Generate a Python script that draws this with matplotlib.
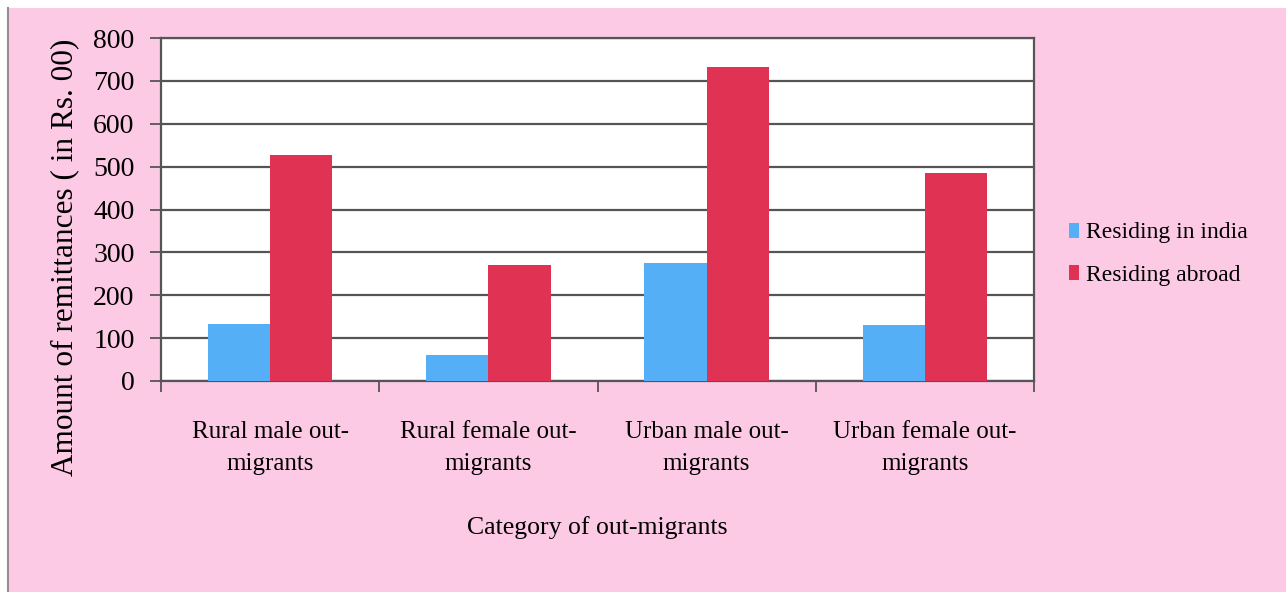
import matplotlib
matplotlib.use("Agg")
import matplotlib.pyplot as plt
import numpy as np
from matplotlib.patches import Rectangle

categories = ["Rural male out-\nmigrants", "Rural female out-\nmigrants",
              "Urban male out-\nmigrants", "Urban female out-\nmigrants"]
residing_india = [133, 61, 276, 131]
residing_abroad = [527, 270, 733, 486]
series_names = ["Residing in india", "Residing abroad"]
yticks = [0, 100, 200, 300, 400, 500, 600, 700, 800]

pink = "#FCCAE5"
blue = "#55AFF6"
red = "#E03252"
grid_col = "#555555"

plt.rcParams['font.family'] = ['Liberation Serif', 'DejaVu Serif']

fig = plt.figure(figsize=(12.86, 5.92), dpi=100)
fig.patch.set_facecolor("white")
# pink panel with thin white margin at top and left
fig.patches.append(Rectangle((7 / 1286, 0), 1 - 7 / 1286, 1 - 8 / 592,
                             transform=fig.transFigure, facecolor=pink,
                             edgecolor="none", zorder=-10))
fig.lines.append(plt.Line2D([7.5 / 1286, 7.5 / 1286], [0, 1 - 8 / 592],
                            transform=fig.transFigure, color="#9a8a92", lw=1.5))

ax = fig.add_axes([161 / 1286, 1 - 381 / 592, (1034 - 161) / 1286, (381 - 38) / 592])
ax.set_facecolor("white")

x = np.arange(len(categories))
w = 1 / 3.5
ax.bar(x - w / 2, residing_india, width=w, color=blue, label=series_names[0], zorder=3)
ax.bar(x + w / 2, residing_abroad, width=w, color=red, label=series_names[1], zorder=3)

ax.set_xlim(-0.5, len(categories) - 0.5)
ax.set_ylim(0, 800)
ax.set_yticks(yticks)
ax.set_yticklabels([str(v) for v in yticks], fontsize=20)
ax.yaxis.grid(True, color=grid_col, lw=1.6, zorder=1)
ax.tick_params(axis='y', length=8, width=1.3, color=grid_col, pad=11)

ax.set_xticks(np.arange(len(categories) + 1) - 0.5)
ax.set_xticklabels([])
ax.set_xticks(x, minor=True)
ax.set_xticklabels(categories, minor=True, fontsize=18, linespacing=1.6)
ax.tick_params(axis='x', which='minor', length=0, pad=29)
ax.tick_params(axis='x', which='major', length=8, width=1.3, color=grid_col)

for side in ["left", "bottom", "right", "top"]:
    ax.spines[side].set_color(grid_col)
    ax.spines[side].set_linewidth(1.6)

ax.set_xlabel("Category of out-migrants", fontsize=18.5, labelpad=29)
ax.set_ylabel("Amount of remittances ( in Rs. 00)", fontsize=22.5)
ax.yaxis.set_label_coords(-0.094, 0.36)

leg = ax.legend(loc="center left", bbox_to_anchor=(1.016, 0.37), frameon=False,
                fontsize=17, handlelength=0.4, handleheight=0.6,
                handletextpad=0.3, labelspacing=0.9)

plt.savefig("out.png", dpi=100, facecolor=fig.get_facecolor())
